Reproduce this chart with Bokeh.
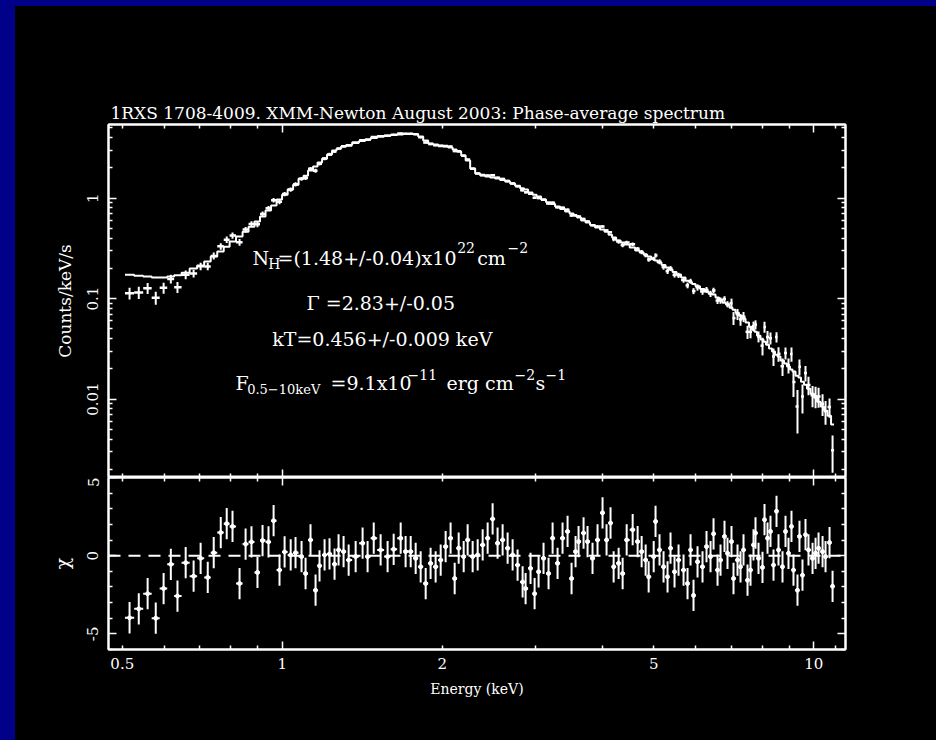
import numpy as np
from bokeh.plotting import figure
from bokeh.layouts import column
from bokeh.models import FixedTicker, LogAxis, LinearAxis, NumeralTickFormatter, Span, Label
from bokeh.embed import file_html
from bokeh.resources import INLINE

# ---------------------------------------------------------------------------
# 1RXS J1708-4009, XMM-Newton EPIC spectrum (phase averaged)
# bin centres (keV), count rate (counts/keV/s), 1-sigma errors,
# best-fit absorbed BB+PL model and residuals in units of sigma
# ---------------------------------------------------------------------------
energy = [
    0.516, 0.537, 0.558, 0.578, 0.598, 0.617, 0.635, 0.658, 0.681, 0.702,
    0.724, 0.743, 0.766, 0.786, 0.806, 0.831, 0.853, 0.875, 0.898, 0.918,
    0.942, 0.963, 0.988, 1.010, 1.037, 1.059, 1.087, 1.106, 1.130, 1.155,
    1.175, 1.201, 1.227, 1.254,
    1.276, 1.304, 1.333, 1.374, 1.416, 1.447, 1.486, 1.531, 1.578, 1.620,
    1.670, 1.706, 1.744, 1.782, 1.821, 1.861, 1.901, 1.943, 1.986, 2.029,
    2.073, 2.110, 2.147, 2.194, 2.232, 2.281, 2.331, 2.382, 2.434, 2.487,
    2.541, 2.597, 2.654, 2.712, 2.771, 2.832, 2.869, 2.931, 2.983, 3.035,
    3.101, 3.169, 3.225, 3.295, 3.367, 3.441, 3.501, 3.562, 3.609, 3.688,
    3.752, 3.834, 3.918, 4.004, 4.074, 4.145,
    4.201, 4.293, 4.368, 4.445, 4.562, 4.661, 4.743, 4.826, 4.889, 4.997,
    5.037, 5.125, 5.215, 5.306, 5.375, 5.469, 5.565, 5.687, 5.786, 5.862,
    5.938, 6.042, 6.174, 6.282, 6.392, 6.476, 6.589, 6.675, 6.791, 6.880,
    7.000, 7.061, 7.185, 7.279, 7.374, 7.503, 7.601, 7.700, 7.767, 7.869,
    8.006, 8.076, 8.182, 8.288, 8.397, 8.507, 8.581, 8.731, 8.845, 8.960,
    9.077, 9.156, 9.316, 9.397, 9.520, 9.645, 9.771, 9.944, 10.075, 10.206,
    10.385, 10.520, 10.704, 10.845,
]

counts = [
    0.113, 0.115, 0.127, 0.102, 0.128, 0.157, 0.130, 0.173, 0.178, 0.210,
    0.209, 0.266, 0.331, 0.386, 0.425, 0.364, 0.486, 0.552, 0.548, 0.694,
    0.791, 0.954, 0.920, 1.096, 1.218, 1.372, 1.556, 1.585, 1.961, 1.872,
    2.202, 2.475, 2.721, 2.913,
    3.120, 3.273, 3.347, 3.561, 3.759, 3.816, 4.056, 4.128, 4.163, 4.276,
    4.394, 4.359, 4.359, 4.316, 4.026, 3.580, 3.446, 3.350, 3.308, 3.296,
    3.262, 2.936, 2.934, 2.644, 2.416, 1.963, 1.755, 1.702, 1.678, 1.686,
    1.598, 1.553, 1.479, 1.396, 1.309, 1.198, 1.144, 1.108, 1.009, 1.005,
    0.961, 0.883, 0.899, 0.812, 0.801, 0.766, 0.672, 0.675, 0.656, 0.621,
    0.585, 0.536, 0.523, 0.523, 0.477, 0.458,
    0.3911, 0.3690, 0.3414, 0.3610, 0.3468, 0.3130, 0.2904, 0.2704, 0.2451, 0.2493,
    0.2691, 0.2330, 0.2065, 0.1876, 0.1997, 0.1725, 0.1705, 0.1532, 0.1354, 0.1490,
    0.1189, 0.1294, 0.1180, 0.1222, 0.1117, 0.1205, 0.0956, 0.0958, 0.0992, 0.0880,
    0.0902, 0.0640, 0.0700, 0.0619, 0.0660, 0.0467, 0.0467, 0.0532, 0.0551, 0.0419,
    0.0340, 0.0522, 0.0416, 0.0404, 0.0266, 0.0414, 0.0282, 0.0212, 0.0287, 0.0217,
    0.0281, 0.0148, 0.00845, 0.0210, 0.0106, 0.0182, 0.0138, 0.0109, 0.0107, 0.0106,
    0.00898, 0.00756, 0.00833, 0.0031,
]

count_err = [
    0.015, 0.016, 0.016, 0.015, 0.016, 0.016, 0.016, 0.017, 0.016, 0.018,
    0.018, 0.021, 0.025, 0.028, 0.030, 0.028, 0.030, 0.036, 0.034, 0.040,
    0.045, 0.050, 0.050, 0.055, 0.060, 0.065, 0.070, 0.075, 0.080, 0.085,
    0.090, 0.095, 0.100, 0.105,
    0.071, 0.075, 0.077, 0.082, 0.085, 0.088, 0.091, 0.094, 0.096, 0.097,
    0.099, 0.100, 0.100, 0.100, 0.094, 0.086, 0.080, 0.078, 0.077, 0.075,
    0.073, 0.070, 0.067, 0.061, 0.054, 0.045, 0.040, 0.039, 0.038, 0.037,
    0.044, 0.042, 0.041, 0.039, 0.037, 0.035, 0.034, 0.032, 0.030, 0.029,
    0.027, 0.026, 0.024, 0.023, 0.022, 0.021, 0.020, 0.019, 0.018, 0.017,
    0.016, 0.015, 0.014, 0.014, 0.013, 0.012,
    0.0190, 0.0178, 0.0170, 0.0162, 0.0151, 0.0141, 0.0135, 0.0129, 0.0123, 0.0118,
    0.0139, 0.0132, 0.0125, 0.0118, 0.0113, 0.0106, 0.0101, 0.0094, 0.0088, 0.0085,
    0.0081, 0.0094, 0.0088, 0.0083, 0.0080, 0.0078, 0.0073, 0.0069, 0.0065, 0.0062,
    0.0098, 0.0094, 0.0088, 0.0082, 0.0076, 0.0070, 0.0064, 0.0059, 0.0057, 0.0052,
    0.0068, 0.0065, 0.0061, 0.0055, 0.0052, 0.0048, 0.0046, 0.0042, 0.0039, 0.0037,
    0.0045, 0.0043, 0.0039, 0.0038, 0.0034, 0.0032, 0.0029, 0.0026, 0.0026, 0.0024,
    0.0022, 0.0020, 0.0018, 0.00125,
]

model = [
    0.173, 0.169, 0.166, 0.162, 0.162, 0.166, 0.171, 0.181, 0.199, 0.213,
    0.234, 0.262, 0.294, 0.329, 0.369, 0.414, 0.464, 0.520, 0.584, 0.655,
    0.751, 0.842, 0.966, 1.083, 1.215, 1.360, 1.560, 1.670, 1.880, 2.060,
    2.260, 2.470, 2.710, 2.970,
    3.094, 3.253, 3.369, 3.566, 3.691, 3.821, 3.954, 4.093, 4.169, 4.236,
    4.283, 4.333, 4.333, 4.333, 4.093, 3.733, 3.485, 3.406, 3.329, 3.253,
    3.180, 3.038, 2.902, 2.648, 2.361, 1.966, 1.753, 1.675, 1.636, 1.600,
    1.563, 1.510, 1.459, 1.394, 1.331, 1.257, 1.215, 1.134, 1.083, 1.035,
    0.966, 0.912, 0.872, 0.823, 0.777, 0.734, 0.701, 0.670, 0.640, 0.597,
    0.571, 0.539, 0.509, 0.486, 0.464, 0.433,
    0.4046, 0.3777, 0.3607, 0.3446, 0.3217, 0.3003, 0.2869, 0.2740, 0.2617, 0.2500,
    0.2388, 0.2281, 0.2154, 0.2035, 0.1943, 0.1835, 0.1733, 0.1618, 0.1510, 0.1459,
    0.1394, 0.1331, 0.1243, 0.1174, 0.1122, 0.1096, 0.1023, 0.0977, 0.0912, 0.0871,
    0.0813, 0.0777, 0.0725, 0.0677, 0.0632, 0.0577, 0.0526, 0.0491, 0.0469, 0.0428,
    0.0391, 0.0373, 0.0348, 0.0318, 0.0297, 0.0277, 0.0265, 0.0242, 0.0226, 0.0211,
    0.0197, 0.0188, 0.0171, 0.0164, 0.0149, 0.0139, 0.0127, 0.0113, 0.0103, 0.00944,
    0.00842, 0.00768, 0.00685, 0.0056,
]

chi = [
    -3.97, -3.40, -2.43, -4.00, -2.10, -0.55, -2.58, -0.45, -1.31, -0.17,
    -1.39, 0.19, 1.48, 2.05, 1.87, -1.78, 0.74, 0.88, -1.07, 0.97,
    0.88, 2.24, -0.92, 0.24, 0.05, 0.19, -0.06, -1.14, 1.01, -2.21,
    -0.65, 0.05, 0.11, -0.54,
    0.37, 0.26, -0.28, -0.06, 0.80, -0.06, 1.12, 0.37, -0.06, 0.41,
    1.12, 0.26, 0.26, -0.17, -0.71, -1.78, -0.49, -0.71, -0.28, 0.58,
    1.12, -1.46, 0.48, -0.06, 1.01, -0.06, 0.05, 0.69, 1.12, 2.35,
    0.80, 1.01, 0.48, 0.05, -0.60, -1.68, -2.10, -0.81, -2.43, -1.03,
    -0.17, -1.14, 1.12, -0.49, 1.12, 1.55, -1.46, 0.26, 0.90, 1.45,
    0.90, -0.17, 1.01, 2.74, 1.01, 2.09,
    -0.71, -0.49, -1.14, 1.01, 1.66, 0.90, 0.26, -0.28, -1.35, -0.06,
    2.19, 0.37, -0.71, -1.35, 0.48, -1.03, -0.28, -0.92, -1.78, 0.37,
    -2.54, -0.39, -0.71, 0.58, -0.06, 1.40, -0.92, -0.28, 1.23, 0.15,
    0.90, -1.46, -0.28, -0.71, 0.37, -1.57, -0.92, 0.69, 1.45, -0.17,
    -0.75, 2.30, 1.12, 1.55, -0.60, 2.84, 0.37, -0.71, 1.55, 0.15,
    1.87, -0.92, -2.21, 1.23, -1.25, 1.34, 0.37, -0.17, 0.15, 0.48,
    0.26, -0.06, 0.84, -1.96,
]

# axis ticks
x_major = [1, 10]
x_minor = [0.5, 0.6, 0.7, 0.8, 0.9, 2, 3, 4, 5, 6, 7, 8, 9, 11]
x_labelled = [0.5, 1, 2, 5, 10]
y_major = [0.01, 0.1, 1]
y_minor = [m * d for d in (0.001, 0.01, 0.1, 1) for m in range(2, 10) if m * d not in y_major]
chi_major = [-5, 0, 5]
chi_minor = [-6, -4, -3, -2, -1, 1, 2, 3, 4]

TITLE = "1RXS 1708-4009. XMM-Newton August 2003: Phase-average spectrum"
FONT = "DejaVu Serif"
X_RANGE = (0.471, 11.47)
Y_RANGE = (0.00166, 5.4)
CHI_RANGE = (-6, 5)

# bin edges half way (in log E) between neighbouring centres
e = np.array(energy)
log_e = np.log10(e)
mids = 10 ** ((log_e[1:] + log_e[:-1]) / 2)
lo = np.concatenate([[e[0] ** 2 / mids[0]], mids])
hi = np.concatenate([mids, [e[-1] ** 2 / mids[-1]]])
c = np.array(counts)
ce = np.array(count_err)
r = np.array(chi)


def style_axis(ax, labels=True):
    ax.axis_line_color = "white"
    ax.axis_line_width = 2
    ax.major_tick_line_color = "white"
    ax.minor_tick_line_color = "white"
    ax.major_tick_line_width = 1.5
    ax.minor_tick_line_width = 1.5
    ax.major_tick_in = 8
    ax.major_tick_out = 0
    ax.minor_tick_in = 4
    ax.minor_tick_out = 0
    ax.major_label_text_color = "white"
    ax.major_label_text_font = FONT
    ax.major_label_text_font_size = "15px"
    ax.axis_label_text_color = "white"
    ax.axis_label_text_font = FONT
    ax.axis_label_text_font_style = "normal"
    ax.axis_label_text_font_size = "15px"
    if not labels:
        # tick marks only: labels shrunk away so the axis takes no room
        ax.major_label_text_font_size = "1px"
        ax.major_label_text_alpha = 0
        ax.major_label_standoff = 0


# ---------------- upper panel: count spectrum ----------------
p1 = figure(width=921, height=471, x_axis_type="log", y_axis_type="log",
            x_range=X_RANGE, y_range=Y_RANGE,
            min_border_left=93, min_border_right=91, min_border_top=118, min_border_bottom=0,
            background_fill_color="black", border_fill_color="black",
            outline_line_color="white", outline_line_width=2,
            output_backend="svg", toolbar_location=None, title=TITLE)
p1.grid.visible = False
p1.title.text_color = "white"
p1.title.text_font = FONT
p1.title.text_font_size = "17px"
p1.title.text_font_style = "normal"
p1.title.align = "left"
p1.title.offset = 2
p1.title.standoff = 3

ya = p1.yaxis[0]
ya.ticker = FixedTicker(ticks=y_major, minor_ticks=y_minor)
ya.formatter = NumeralTickFormatter(format="0.[00]")
ya.major_label_orientation = "parallel"
ya.axis_label = "Counts/keV/s"
style_axis(ya)
ya.axis_label_text_font_size = "17px"
ya.major_label_standoff = 10
ya.axis_label_standoff = 10

xa = p1.xaxis[0]
xa.ticker = FixedTicker(ticks=x_major, minor_ticks=x_minor)
style_axis(xa, labels=False)

top1 = LogAxis(ticker=FixedTicker(ticks=x_major, minor_ticks=x_minor))
style_axis(top1, labels=False)
p1.add_layout(top1, "above")
right1 = LogAxis(ticker=FixedTicker(ticks=y_major, minor_ticks=y_minor))
style_axis(right1, labels=False)
p1.add_layout(right1, "right")

# model as a histogram over the bins
step_x = np.column_stack([lo, hi]).ravel()
step_y = np.repeat(np.array(model), 2)
p1.line(step_x, step_y, line_color="white", line_width=2)
# data crosses: bin width and 1-sigma error
p1.segment(x0=lo, y0=c, x1=hi, y1=c, line_color="white", line_width=2.5)
p1.segment(x0=e, y0=c - ce, x1=e, y1=c + ce, line_color="white", line_width=2)

FRAME_W, FRAME_H = 737, 353


def frame_to_data(dx, dy):
    """Pixel offsets from the upper frame's top-left corner -> data coordinates."""
    lx = np.log10(X_RANGE[0]) + dx / FRAME_W * np.log10(X_RANGE[1] / X_RANGE[0])
    ly = np.log10(Y_RANGE[1]) - dy / FRAME_H * np.log10(Y_RANGE[1] / Y_RANGE[0])
    return 10 ** lx, 10 ** ly


# fit results: text pieces with sub/superscripts (offsets within the frame, font size)
fit_text = [
    ("N", 144, 133.5, 19),
    ("H", 159.7, 139.5, 14),
    ("=(1.48+/-0.04)x10", 169, 133.5, 19),
    ("22", 348.7, 123, 14),
    ("cm", 368.7, 133.5, 19),
    ("\u22122", 399, 123, 14),
    ("\u0393 =2.83+/-0.05", 198, 178, 19),
    ("kT=0.456+/-0.009 keV", 163.7, 214.5, 19),
    ("F", 127, 258, 19),
    ("0.5\u221210keV", 138.7, 264.5, 13),
    ("=9.1x10", 222, 258, 19),
    ("\u221211", 299, 250, 14),
    ("erg cm", 338, 258, 19),
    ("\u22122", 406, 250, 14),
    ("s", 427, 258, 19),
    ("\u22121", 437, 250, 14),
]
for txt, dx, dy, size in fit_text:
    lx, ly = frame_to_data(dx, dy)
    p1.add_layout(Label(x=lx, y=ly, text=txt, text_color="white", text_font=FONT,
                        text_font_size=f"{size}px", text_align="left",
                        text_baseline="alphabetic"))

# ---------------- lower panel: residuals ----------------
p2 = figure(width=921, height=263, x_axis_type="log",
            x_range=p1.x_range, y_range=CHI_RANGE,
            min_border_left=93, min_border_right=91, min_border_top=0, min_border_bottom=91,
            background_fill_color="black", border_fill_color="black",
            outline_line_color="white", outline_line_width=2,
            output_backend="svg", toolbar_location=None)
p2.grid.visible = False

ca = p2.yaxis[0]
ca.ticker = FixedTicker(ticks=chi_major, minor_ticks=chi_minor)
ca.formatter = NumeralTickFormatter(format="0")
ca.major_label_orientation = "parallel"
ca.axis_label = "\u03c7"
style_axis(ca)
ca.axis_label_text_font_size = "19px"
ca.major_label_standoff = 10
ca.axis_label_standoff = 12

xb = p2.xaxis[0]
xb.ticker = FixedTicker(ticks=x_major, minor_ticks=x_minor)
style_axis(xb, labels=False)

xl = LogAxis(ticker=FixedTicker(ticks=x_labelled, minor_ticks=[]),
             formatter=NumeralTickFormatter(format="0.[00]"), axis_label="Energy (keV)")
style_axis(xl)
xl.axis_label_text_font_size = "14px"
xl.axis_line_color = None
xl.major_tick_in = 0
xl.minor_tick_in = 0
xl.major_label_standoff = 8
xl.axis_label_standoff = 9
p2.add_layout(xl, "below")

top2 = LogAxis(ticker=FixedTicker(ticks=x_major, minor_ticks=x_minor))
style_axis(top2, labels=False)
p2.add_layout(top2, "above")
right2 = LinearAxis(ticker=FixedTicker(ticks=chi_major, minor_ticks=chi_minor))
style_axis(right2, labels=False)
p2.add_layout(right2, "right")

p2.add_layout(Span(location=0, dimension="width", line_color="white",
                   line_width=2, line_dash="12 8"))
p2.segment(x0=lo, y0=r, x1=hi, y1=r, line_color="white", line_width=2)
p2.segment(x0=e, y0=r - 1, x1=e, y1=r + 1, line_color="white", line_width=2)
p2.scatter(e, r, size=4, marker="circle", color="white")

inner = column(p1, p2, margin=(6, 0, 0, 15), styles={"background-color": "black"})
page = column(inner, styles={"background-color": "#000088"})

open("out.html", "w").write(file_html(page, INLINE))
